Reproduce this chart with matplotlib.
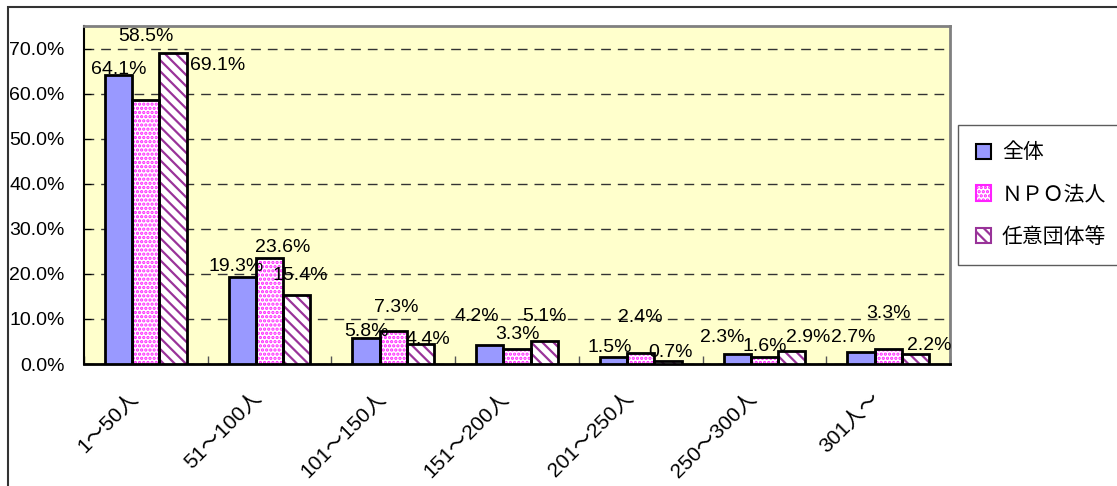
import numpy as np
import matplotlib
matplotlib.use("Agg")
from matplotlib import pyplot as plt
from matplotlib.patches import Rectangle, Patch
from matplotlib.ticker import FuncFormatter, MultipleLocator, FixedLocator
import matplotlib.transforms as mtransforms

plt.rcParams['font.family'] = ['Liberation Sans', 'Noto Sans CJK JP', 'DejaVu Sans']
plt.rcParams['hatch.linewidth'] = 1.6

# データ
categories = ['1～50人', '51～100人', '101～150人', '151～200人', '201～250人', '250～300人', '301人～']
series_names = ['全体', 'ＮＰＯ法人', '任意団体等']
zentai = [64.1, 19.3, 5.8, 4.2, 1.5, 2.3, 2.7]
npo = [58.5, 23.6, 7.3, 3.3, 2.4, 1.6, 3.3]
nini = [69.1, 15.4, 4.4, 5.1, 0.7, 2.9, 2.2]

# ラベル位置のずれ(px): Excelの自動配置に合わせる
off_zentai = [(0, 6), (-6, 11), (0, 6), (-13, 29), (-4, 10), (-15, 16), (-8, 14)]
off_npo = [(0, 64), (13, 10), (3, 24), (0, 15), (0, 36), (0, 10), (0, 36)]
off_nini = [(45, -13), (3, 19), (7, 5), (0, 25), (3, 8), (17, 13), (14, 9)]

fig = plt.figure(figsize=(11.17, 4.86), dpi=100)
ax = fig.add_axes([84 / 1117, 1 - 364 / 486, (950 - 84) / 1117, (364 - 26) / 486])
ax.set_facecolor('#FFFFCC')

x = np.arange(len(categories))
w = 0.22

def draw_bars(xpos, vals, face, hatch=None, hcolor=None):
    v = np.array(vals) / 100.0
    if hatch:
        ax.bar(xpos, v, w, color='white', edgecolor=hcolor, hatch=hatch, linewidth=0, zorder=3)
        bars = ax.bar(xpos, v, w, facecolor='none', edgecolor='black', linewidth=2, zorder=4)
    else:
        bars = ax.bar(xpos, v, w, color=face, edgecolor='black', linewidth=2, zorder=4)
    return bars

b1 = draw_bars(x - w, zentai, '#9999FF')
b2 = draw_bars(x, npo, 'white', '....', '#FF22FF')
b3 = draw_bars(x + w, nini, 'white', '\\\\\\', '#993399')

for bars, vals, offs in [(b1, zentai, off_zentai), (b2, npo, off_npo), (b3, nini, off_nini)]:
    for r, v, (dx, dy) in zip(bars, vals, offs):
        ax.annotate('%.1f%%' % v, (r.get_x() + r.get_width() / 2, r.get_height()),
                    xytext=(dx, dy), textcoords='offset pixels',
                    ha='center', va='center', fontsize=14, zorder=6)

ax.set_xlim(-0.5, len(categories) - 0.5)
ax.set_ylim(0, 0.75)
ax.yaxis.set_major_locator(MultipleLocator(0.1))
ax.yaxis.set_major_formatter(FuncFormatter(lambda v, p: '%.1f%%' % (v * 100)))
ax.grid(axis='y', color='#333333', linestyle=(0, (7, 5)), linewidth=1.0, zorder=1)
ax.set_axisbelow(True)

ax.set_xticks(x)
ax.set_xticklabels(categories, rotation=45, ha='right', rotation_mode='anchor', fontsize=15)
ax.xaxis.set_minor_locator(FixedLocator(np.arange(-0.5, len(categories), 1.0)))
ax.tick_params(axis='x', which='major', length=0, pad=0)
ax.tick_params(axis='x', which='minor', direction='in', length=6, width=1, color='#555555')
ax.tick_params(axis='y', direction='in', length=5, labelsize=14, pad=14)
shift = mtransforms.ScaledTranslation(-17 / 100, -25 / 100, fig.dpi_scale_trans)
for lab in ax.get_xticklabels():
    lab.set_transform(lab.get_transform() + shift)

for s in ['top', 'right']:
    ax.spines[s].set_color('#808080')
    ax.spines[s].set_linewidth(2)
ax.spines['left'].set_color('black')
ax.spines['bottom'].set_color('black')
ax.spines['left'].set_linewidth(1.5)
ax.spines['bottom'].set_linewidth(2)

handles = [
    Patch(facecolor='#9999FF', edgecolor='black', linewidth=1.5),
    Patch(facecolor='white', edgecolor='#FF22FF', hatch='....', linewidth=1.5),
    Patch(facecolor='white', edgecolor='#993399', hatch='\\\\\\', linewidth=1.5),
]
leg = fig.legend(handles, series_names, loc='upper left',
                 bbox_to_anchor=(958 / 1117, 1 - 125 / 486), fontsize=15,
                 frameon=True, fancybox=False, edgecolor='#333333',
                 handlelength=0.75, handleheight=0.75, handletextpad=0.5,
                 labelspacing=1.1, borderpad=0.85, borderaxespad=0)
leg.get_frame().set_linewidth(1.0)

# 外枠
fig.add_artist(Rectangle((8 / 1117, -0.1), 1.2, 1.1 - 7 / 486, transform=fig.transFigure,
                         fill=False, edgecolor='#333333', linewidth=1.5))

fig.savefig('out.png', dpi=100)
